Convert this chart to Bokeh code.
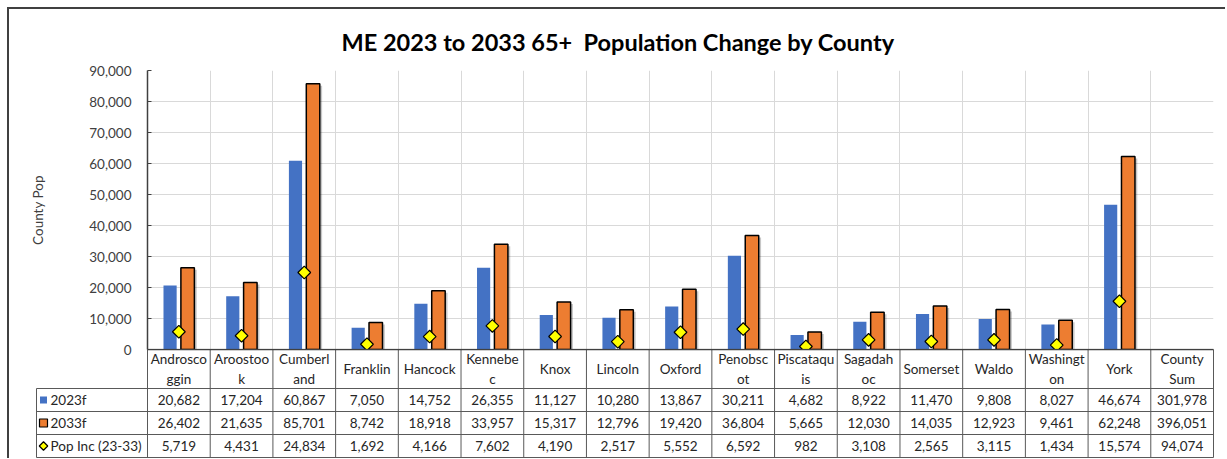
import numpy as np
from bokeh.plotting import figure
from bokeh.layouts import column
from bokeh.models import Range1d, FixedTicker, NumeralTickFormatter, Title, ColumnDataSource
from bokeh.core.properties import value
from bokeh.embed import file_html
from bokeh.resources import INLINE

# ---------------- data ----------------
title = "ME 2023 to 2033 65+  Population Change by County"
y_label = "County Pop"
counties = ["Androscoggin", "Aroostook", "Cumberland", "Franklin", "Hancock", "Kennebec",
            "Knox", "Lincoln", "Oxford", "Penobscot", "Piscataquis", "Sagadahoc",
            "Somerset", "Waldo", "Washington", "York"]
col_labels = ["Androsco\nggin", "Aroostoo\nk", "Cumberl\nand", "Franklin", "Hancock",
              "Kennebe\nc", "Knox", "Lincoln", "Oxford", "Penobsc\not", "Piscataqu\nis",
              "Sagadah\noc", "Somerset", "Waldo", "Washingt\non", "York", "County\nSum"]
pop_2023 = [20682, 17204, 60867, 7050, 14752, 26355, 11127, 10280, 13867, 30211,
            4682, 8922, 11470, 9808, 8027, 46674]
pop_2033 = [26402, 21635, 85701, 8742, 18918, 33957, 15317, 12796, 19420, 36804,
            5665, 12030, 14035, 12923, 9461, 62248]
pop_inc = [5719, 4431, 24834, 1692, 4166, 7602, 4190, 2517, 5552, 6592,
           982, 3108, 2565, 3115, 1434, 15574]
sum_2023 = 301978
sum_2033 = 396051
sum_inc = 94074
series_names = ["2023f", "2033f", "Pop Inc (23-33)"]
y_ticks = [0, 10000, 20000, 30000, 40000, 50000, 60000, 70000, 80000, 90000]

# ---------------- styles ----------------
BLUE = "#4472C4"
ORANGE = "#ED7D31"
YELLOW = "#FFFF00"
FONT = "Lato"
TXT = "#262626"
LINE = "#595959"
DARK = "#404040"

ncol = len(col_labels)
W = 1216                 # content width (page x 9 .. 1225)
FRAME_L = 138            # top frame left border -> page x 147
FRAME_W = 1066           # -> page x 1213
PX = FRAME_W / ncol      # px per category
PLOT_H = 279             # px for 0..90,000
BOT_PAD = 10             # canvas below the plot area (room for the "0" label)
HEAD_H = 39              # category label row height (px)
ROW_H = 23               # data table row height (px)

# ---------------- top chart ----------------
top = figure(width=W, height=61 + PLOT_H + BOT_PAD, output_backend="svg", toolbar_location=None,
             x_range=Range1d(0, ncol), y_range=Range1d(0, 90000),
             x_axis_location=None, min_border_left=FRAME_L,
             min_border_right=W - FRAME_L - FRAME_W, min_border_top=61,
             min_border_bottom=BOT_PAD)
top.outline_line_color = None
top.background_fill_color = "white"
top.border_fill_color = "white"

top.yaxis.ticker = FixedTicker(ticks=y_ticks)
top.yaxis.formatter = NumeralTickFormatter(format="0,0")
top.yaxis.major_label_text_font = FONT
top.yaxis.major_label_text_font_size = "13.5px"
top.yaxis.major_label_text_color = DARK
top.yaxis.major_tick_in = 4
top.yaxis.major_tick_out = 0
top.yaxis.minor_tick_line_color = None
top.yaxis.major_tick_line_color = DARK
top.yaxis.axis_line_color = DARK
top.yaxis.axis_line_width = 1.5
top.yaxis.major_label_standoff = 16
top.yaxis.axis_label = y_label
top.yaxis.axis_label_text_font = FONT
top.yaxis.axis_label_text_font_size = "13.5px"
top.yaxis.axis_label_text_font_style = "normal"
top.yaxis.axis_label_text_color = DARK
top.yaxis.axis_label_standoff = 40

top.ygrid.ticker = FixedTicker(ticks=y_ticks[1:])
top.ygrid.grid_line_color = "#d9d9d9"
top.ygrid.grid_line_width = 1
top.xgrid.ticker = FixedTicker(ticks=list(range(1, ncol + 1)))
top.xgrid.grid_line_color = "#d9d9d9"
top.xgrid.grid_line_width = 1

top.add_layout(Title(text=title.replace("  ", "\u00a0 "), align="left", offset=194, standoff=30,
                     text_font=FONT, text_font_size="23.5px", text_font_style="bold",
                     text_color="black"), "above")

xc = np.arange(len(counties)) + 0.5
src = ColumnDataSource(dict(xb=xc - 0.14, xo=xc + 0.14, xs=xc + 0.14 + 0.035, xd=xc,
                            a=pop_2023, b=pop_2033, bs=np.array(pop_2033) - 650, d=pop_inc))
top.vbar(x="xs", top="bs", width=0.22, source=src, fill_color="black", fill_alpha=0.22,
         line_color=None)
top.vbar(x="xb", top="a", width=0.21, source=src, fill_color=BLUE, line_color=None)
top.vbar(x="xo", top="b", width=0.215, source=src, fill_color=ORANGE, line_color="black",
         line_width=1.5)
top.scatter(x="xd", y="d", source=src, marker="square", angle=np.pi / 4, size=9,
            fill_color=YELLOW, line_color="black", line_width=1.2)

# ---------------- data table (label row + value rows), transparent, overlapping ----------------
nrows = len(series_names)
rows_h = nrows * ROW_H
tab_top = rows_h + HEAD_H
x0 = -(147 - 35) / PX
x1 = ncol + 2 / PX
bw_l = 26
bw_r = W - bw_l - int(round((x1 - x0) * PX))
bot = figure(width=W, height=tab_top + 2, output_backend="svg", toolbar_location=None,
             x_range=Range1d(x0, x1), y_range=Range1d(-1, tab_top + 1),
             x_axis_location=None, y_axis_location=None,
             min_border_left=bw_l, min_border_right=bw_r, min_border_top=0, min_border_bottom=0)
bot.outline_line_color = None
bot.grid.visible = False
bot.background_fill_color = None
bot.border_fill_color = None

vx = list(range(ncol + 1))
leg_x = -(147 - 36) / PX
hy = [r * ROW_H for r in range(nrows + 1)]
bot.segment(x0=[leg_x] * len(hy), y0=hy, x1=[ncol] * len(hy), y1=hy, line_color=LINE,
            line_width=1)
bot.segment(x0=vx, y0=[0] * len(vx), x1=vx, y1=[tab_top] * len(vx),
            line_color=LINE, line_width=1)
bot.segment(x0=[leg_x], y0=[0], x1=[leg_x], y1=[rows_h], line_color=LINE, line_width=1)
bot.segment(x0=[0], y0=[tab_top], x1=[ncol], y1=[tab_top], line_color=DARK, line_width=1.5)

bot.text(x=list(np.arange(ncol) + 0.5), y=[rows_h + HEAD_H / 2] * ncol, text=col_labels,
         text_align="center", text_baseline="middle", text_font=value(FONT),
         text_font_size="13.5px", text_color=TXT, text_line_height=1.25)

rows = [pop_2023 + [sum_2023], pop_2033 + [sum_2033], pop_inc + [sum_inc]]
for i, vals in enumerate(rows):
    yc = (nrows - 1 - i) * ROW_H + ROW_H / 2
    bot.text(x=list(np.arange(ncol) + 0.5), y=[yc] * ncol, text=[f"{v:,}" for v in vals],
             text_align="center", text_baseline="middle", text_font=value(FONT),
             text_font_size="13.5px", text_color=TXT)

ly = [(nrows - 1 - i) * ROW_H + ROW_H / 2 for i in range(nrows)]
kx = -(147 - 43) / PX
bot.scatter(x=[kx], y=[ly[0]], marker="square", size=7, fill_color=BLUE, line_color=None)
bot.scatter(x=[kx], y=[ly[1]], marker="square", size=8, fill_color=ORANGE, line_color="black",
            line_width=1.2)
bot.scatter(x=[kx], y=[ly[2]], marker="square", angle=np.pi / 4, size=6, fill_color=YELLOW,
            line_color="black", line_width=1.2)
bot.text(x=[-(147 - 50) / PX] * nrows, y=ly, text=series_names, text_align="left",
         text_baseline="middle", text_font=value(FONT), text_font_size="13.5px", text_color=TXT)

c1 = column(top, styles={"margin-left": "7px", "margin-top": "7px",
                         "border-left": "2px solid #404040", "border-top": "2px solid #404040"})
c2 = column(bot, styles={"margin-left": "7px", "margin-top": f"-{BOT_PAD + 1}px",
                         "border-left": "2px solid #404040", "position": "relative"})
open("out.html", "w").write(file_html([c1, c2], INLINE))
